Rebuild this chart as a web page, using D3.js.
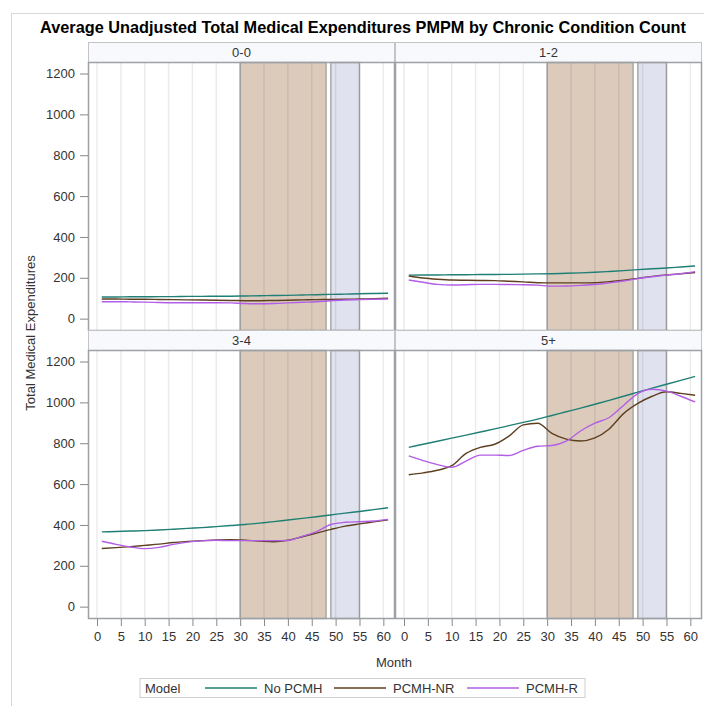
<!DOCTYPE html>
<html>
<head>
<meta charset="utf-8">
<script src="https://cdn.jsdelivr.net/npm/d3@7"></script>
<style>
  body { margin: 0; background: #fff; }
  text { font-family: "Liberation Sans", Arial, sans-serif; }
</style>
</head>
<body>
<div id="chart"></div>
<script>
// data, one value per month in `months`
const panels = ["0-0", "1-2", "3-4", "5+"];
const models = ["No PCMH", "PCMH-NR", "PCMH-R"];
const months = [1, 4, 7, 10, 13, 16, 19, 22, 25, 28, 31, 34, 37, 40, 43, 46, 49, 52, 55, 58, 61];

const noPcmh = [
  [106, 106, 107, 107, 108, 108, 109, 109, 110, 110, 111, 112, 113, 114, 116, 117, 119, 120, 122, 123, 124],
  [213, 214, 214, 215, 215, 216, 216, 217, 218, 219, 220, 222, 224, 227, 231, 235, 240, 244, 248, 253, 258],
  [366, 368, 370, 372, 375, 379, 383, 387, 392, 397, 402, 409, 416, 424, 432, 440, 449, 458, 466, 475, 484],
  [780, 795, 810, 825, 840, 855, 870, 886, 902, 918, 936, 954, 972, 991, 1010, 1030, 1050, 1070, 1089, 1108, 1127]
];
const pcmhNR = [
  [96, 96, 95, 95, 94, 93, 92, 91, 90, 89, 88, 88, 89, 90, 92, 93, 94, 95, 96, 98, 100],
  [209, 199, 193, 189, 188, 187, 186, 183, 180, 176, 175, 175, 175, 176, 181, 188, 197, 207, 214, 220, 226],
  [285, 289, 294, 300, 306, 314, 319, 323, 327, 328, 325, 321, 318, 325, 342, 360, 378, 394, 405, 415, 425],
  [646, 655, 668, 690, 750, 780, 795, 835, 890, 898, 848, 820, 811, 826, 870, 945, 995, 1030, 1052, 1044, 1035]
];
const pcmhR = [
  [83, 83, 82, 81, 79, 78, 78, 78, 78, 77, 74, 73, 74, 77, 80, 83, 88, 91, 93, 95, 96],
  [189, 178, 168, 165, 166, 168, 168, 167, 166, 164, 159, 160, 163, 167, 175, 184, 196, 205, 213, 220, 230],
  [320, 305, 292, 284, 290, 305, 316, 322, 325, 323, 323, 323, 323, 324, 344, 367, 402, 413, 416, 419, 427],
  [738, 715, 695, 682, 712, 742, 742, 740, 765, 785, 789, 810, 860, 898, 926, 985, 1043, 1064, 1055, 1030, 1002]
];
const series = [noPcmh, pcmhNR, pcmhR];

const xTicks = d3.range(0, 61, 5);
const yTicks = d3.range(0, 1201, 200);
// study periods shaded in every panel
const bands = [
  {from: 30, to: 48, fill: "#dccbbb"},
  {from: 49, to: 55, fill: "#e0e3ef"}
];

// layout
const width = 704, height = 706;
const panelW = 306, plotH = 268, headH = 20;
const marginLeft = 88.5, marginTop = 42.5;
const colors = ["#1f7f74", "#5e3f20", "#b25ee6"];

const x = d3.scaleLinear().domain([-1.78, 62.34]).range([0, panelW]);
const y = d3.scaleLinear().domain([-58, 1254]).range([plotH, 0]);

const svg = d3.select("#chart")
  .append("svg")
  .attr("width", width)
  .attr("height", height);

// outer frame
svg.append("rect")
  .attr("x", 11.5).attr("y", 13.5)
  .attr("width", 800).attr("height", 800)
  .attr("fill", "none")
  .attr("stroke", "#d8d8d8");

svg.append("text")
  .attr("x", 363).attr("y", 33)
  .attr("text-anchor", "middle")
  .attr("font-size", "16.3px")
  .attr("font-weight", "bold")
  .attr("fill", "#000")
  .text("Average Unadjusted Total Medical Expenditures PMPM by Chronic Condition Count");

const line = d3.line()
  .x(d => x(d[0]))
  .y(d => y(d[1]))
  .curve(d3.curveMonotoneX);

panels.forEach((name, i) => {
  const col = i % 2, row = Math.floor(i / 2);
  const px = marginLeft + col * (panelW + 1);
  const py = marginTop + row * (plotH + headH) + headH;

  // header strip
  const head = svg.append("g").attr("transform", `translate(${px}, ${py - headH})`);
  head.append("rect")
    .attr("width", panelW).attr("height", headH)
    .attr("fill", "#f8f9fd")
    .attr("stroke", "#c4c4c4");
  head.append("text")
    .attr("x", panelW / 2).attr("y", headH / 2 + 4.5)
    .attr("text-anchor", "middle")
    .attr("font-size", "13px")
    .attr("fill", "#333")
    .text(name);

  const g = svg.append("g").attr("transform", `translate(${px}, ${py})`);

  g.append("rect")
    .attr("width", panelW).attr("height", plotH)
    .attr("fill", "#fff");

  g.selectAll(".band")
    .data(bands)
    .join("rect")
    .attr("x", d => x(d.from))
    .attr("width", d => x(d.to) - x(d.from))
    .attr("height", plotH)
    .attr("fill", d => d.fill)
    .attr("stroke", "#a9a9a9")
    .attr("stroke-width", 1.5);

  g.selectAll(".grid")
    .data(xTicks)
    .join("line")
    .attr("x1", d => x(d)).attr("x2", d => x(d))
    .attr("y1", 0).attr("y2", plotH)
    .attr("stroke", "rgba(0,0,0,0.08)")
    .attr("stroke-width", 1.5);

  series.forEach((s, k) => {
    g.append("path")
      .datum(months.map((m, j) => [m, s[i][j]]))
      .attr("d", line)
      .attr("fill", "none")
      .attr("stroke", colors[k])
      .attr("stroke-width", 1.4);
  });

  g.append("rect")
    .attr("width", panelW).attr("height", plotH)
    .attr("fill", "none")
    .attr("stroke", "#9da1a5")
    .attr("stroke-width", 1.5);

  if (col === 0) {
    const ya = g.append("g")
      .attr("transform", "translate(-0.5, 0)")
      .call(d3.axisLeft(y).tickValues(yTicks).tickFormat(d3.format("d"))
        .tickSize(8).tickPadding(5));
    ya.select(".domain").remove();
    ya.selectAll("line").attr("stroke", "#888");
    ya.selectAll("text").attr("font-size", "13px").attr("fill", "#333")
      .attr("font-family", "Liberation Sans, Arial, sans-serif");
  }
  if (row === 1) {
    const xa = g.append("g")
      .attr("transform", `translate(0, ${plotH + 0.5})`)
      .call(d3.axisBottom(x).tickValues(xTicks).tickSize(7).tickPadding(6));
    xa.select(".domain").remove();
    xa.selectAll("line").attr("stroke", "#888");
    xa.selectAll("text").attr("font-size", "13px").attr("fill", "#333")
      .attr("font-family", "Liberation Sans, Arial, sans-serif");
  }
});

// axis titles
svg.append("text")
  .attr("transform", "translate(35, 333) rotate(-90)")
  .attr("text-anchor", "middle")
  .attr("font-size", "13px")
  .attr("fill", "#333")
  .text("Total Medical Expenditures");

svg.append("text")
  .attr("x", 394).attr("y", 667)
  .attr("text-anchor", "middle")
  .attr("font-size", "13px")
  .attr("fill", "#333")
  .text("Month");

// legend
const legend = svg.append("g").attr("transform", "translate(140, 678.5)");
legend.append("rect")
  .attr("width", 445).attr("height", 19)
  .attr("fill", "#fff")
  .attr("stroke", "#cfcfcf");
legend.append("text")
  .attr("x", 5).attr("y", 14)
  .attr("font-size", "13px")
  .attr("fill", "#333")
  .text("Model");
const itemX = [65, 194, 327];
models.forEach((m, k) => {
  legend.append("line")
    .attr("x1", itemX[k]).attr("x2", itemX[k] + 52)
    .attr("y1", 9.5).attr("y2", 9.5)
    .attr("stroke", colors[k])
    .attr("stroke-width", 1.4);
  legend.append("text")
    .attr("x", itemX[k] + 59).attr("y", 14)
    .attr("font-size", "13px")
    .attr("fill", "#333")
    .text(m);
});
</script>
</body>
</html>
